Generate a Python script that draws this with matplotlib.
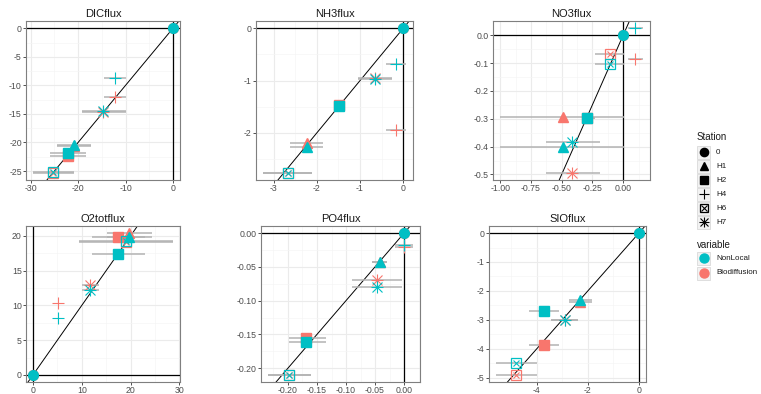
"""Observed vs modelled fluxes per station, NonLocal vs Biodiffusion."""

import matplotlib

matplotlib.use("Agg")

import matplotlib.pyplot as plt
import numpy as np
from matplotlib.patches import Rectangle
from matplotlib.ticker import AutoMinorLocator

plt.rcParams["font.family"] = ["Liberation Sans", "DejaVu Sans"]
plt.rcParams["axes.unicode_minus"] = False

STATIONS = ["0", "H1", "H2", "H4", "H6", "H7"]
VARIABLES = ["NonLocal", "Biodiffusion"]
COLOR_NONLOCAL = "#00BFC4"
COLOR_BIO = "#F8766D"

# x = measured flux, lo/hi = range of the measurement, y = modelled flux
DIC_X = [0, -20.8, -22.1, -12.3, -25.3, -14.7]
DIC_LO = [0, -24.5, -25.9, -14.5, -29.5, -19.2]
DIC_HI = [0, -17.2, -18.4, -9.9, -20.9, -9.9]
DIC_NONLOCAL = [0, -20.4, -21.8, -8.7, -25.2, -14.5]
DIC_BIO = [0, -20.7, -22.3, -12.1, -25.3, -14.6]
DIC_XTICKS = [-30, -20, -10, 0]
DIC_YTICKS = [-25, -20, -15, -10, -5, 0]

NH3_X = [0, -2.23, -1.48, -0.17, -2.66, -0.66]
NH3_LO = [0, -2.63, -1.48, -0.40, -3.24, -1.05]
NH3_HI = [0, -1.85, -1.48, 0.06, -2.11, -0.26]
NH3_NONLOCAL = [0, -2.27, -1.49, -0.69, -2.76, -0.97]
NH3_BIO = [0, -2.19, -1.47, -1.95, -2.76, -0.95]
NH3_XTICKS = [-3, -2, -1, 0]
NH3_YTICKS = [-2, -1, 0]

NO3_X = [0, -0.49, -0.295, 0.098, -0.11, -0.415]
NO3_LO = [0, -1.0, -0.31, 0.04, -0.23, -0.63]
NO3_HI = [0, 0.01, -0.23, 0.16, 0.01, -0.19]
NO3_NONLOCAL = [0, -0.403, -0.298, 0.025, -0.104, -0.385]
NO3_BIO = [0, -0.292, -0.298, -0.086, -0.068, -0.494]
NO3_XTICKS = [-1.0, -0.75, -0.5, -0.25, 0.0]
NO3_YTICKS = [-0.5, -0.4, -0.3, -0.2, -0.1, 0.0]

O2_X = [0, 19.7, 17.5, 5.2, 19.0, 11.7]
O2_LO = [0, 15.2, 12.0, 5.2, 9.5, 10.0]
O2_HI = [0, 24.3, 23.0, 5.2, 28.7, 13.5]
O2_NONLOCAL = [0, 19.8, 17.4, 8.15, 19.3, 12.2]
O2_BIO = [0, 20.4, 19.9, 10.4, 19.1, 12.9]
O2_XTICKS = [0, 10, 20, 30]
O2_YTICKS = [0, 5, 10, 15, 20]

PO4_X = [0, -0.042, -0.169, 0.0, -0.198, -0.047]
PO4_LO = [0, -0.055, -0.199, -0.015, -0.234, -0.089]
PO4_HI = [0, -0.029, -0.135, 0.015, -0.160, -0.003]
PO4_NONLOCAL = [0, -0.043, -0.161, -0.017, -0.210, -0.080]
PO4_BIO = [0, -0.043, -0.156, -0.021, -0.210, -0.069]
PO4_XTICKS = [-0.20, -0.15, -0.10, -0.05, 0.00]
PO4_YTICKS = [-0.20, -0.15, -0.10, -0.05, 0.00]

SIO_X = [0, -2.3, -3.72, np.nan, -4.82, -2.91]
SIO_LO = [0, -2.74, -4.3, np.nan, -5.6, -3.46]
SIO_HI = [0, -1.82, -3.13, np.nan, -4.0, -2.4]
SIO_NONLOCAL = [0, -2.31, -2.71, np.nan, -4.49, -3.02]
SIO_BIO = [0, -2.37, -3.88, np.nan, -4.91, -3.02]
SIO_XTICKS = [-4, -2, 0]
SIO_YTICKS = [-5, -4, -3, -2, -1, 0]

PANEL_TITLES = ["DICflux", "NH3flux", "NO3flux", "O2totflux", "PO4flux", "SIOflux"]

# axes boxes in pixels: left, top, right, bottom
PANEL_BOXES = [
    (26, 21, 180, 180),
    (256, 21, 413, 180),
    (493, 21, 650, 180),
    (26, 226, 180, 382),
    (261, 226, 420, 382),
    (489, 226, 646, 382),
]

FIG_W, FIG_H = 761, 394
SPINE_COLOR = "#7f7f7f"
ERR_COLOR = "#b3b3b3"


def draw_station(ax, x, y, station, color, scale=1.0):
    """Draw ggplot-like shapes 16, 17, 15, 3, 7, 8."""
    if station == "0":
        ax.plot(x, y, "o", ms=7 * scale, color=color, mec=color, zorder=5)
    elif station == "H1":
        ax.plot(x, y, "^", ms=7.5 * scale, color=color, mec=color, zorder=5)
    elif station == "H2":
        ax.plot(x, y, "s", ms=6.5 * scale, color=color, mec=color, zorder=5)
    elif station == "H4":
        ax.plot(x, y, "+", ms=9 * scale, mew=0.8, color=color, zorder=5)
    elif station == "H6":
        ax.plot(x, y, "s", ms=6.5 * scale, mfc="none", mec=color, mew=0.9, zorder=5)
        ax.plot(x, y, "x", ms=4.5 * scale, mew=0.8, color=color, zorder=5)
    elif station == "H7":
        ax.plot(x, y, "+", ms=9 * scale, mew=0.8, color=color, zorder=5)
        ax.plot(x, y, "x", ms=7 * scale, mew=0.8, color=color, zorder=5)


def expanded(values):
    arr = np.asarray(values, dtype=float)
    arr = arr[~np.isnan(arr)]
    lo, hi = min(arr.min(), 0.0), max(arr.max(), 0.0)
    pad = 0.05 * (hi - lo)
    return lo - pad, hi + pad


def draw_panel(ax, title, xs, los, his, y_nonlocal, y_bio, xticks, yticks, fmt_x, fmt_y):
    xs, los, his = np.asarray(xs, float), np.asarray(los, float), np.asarray(his, float)
    y_nonlocal, y_bio = np.asarray(y_nonlocal, float), np.asarray(y_bio, float)

    ax.set_xlim(*expanded(np.concatenate([xs, los, his])))
    ax.set_ylim(*expanded(np.concatenate([y_nonlocal, y_bio])))

    ax.set_xticks(xticks)
    ax.set_yticks(yticks)
    ax.set_xticklabels([fmt_x.format(t) for t in xticks])
    ax.set_yticklabels([fmt_y.format(t) for t in yticks])
    ax.xaxis.set_minor_locator(AutoMinorLocator(2))
    ax.yaxis.set_minor_locator(AutoMinorLocator(2))
    ax.grid(which="major", color="#EBEBEB", lw=0.8, zorder=0)
    ax.grid(which="minor", color="#F5F5F5", lw=0.5, zorder=0)
    ax.set_axisbelow(True)
    ax.tick_params(which="major", length=2, width=0.6, color="#333333",
                   labelsize=6.3, labelcolor="#4d4d4d", pad=1)
    ax.tick_params(which="minor", length=0)
    for spine in ax.spines.values():
        spine.set_color(SPINE_COLOR)
        spine.set_linewidth(0.8)

    ax.axhline(0, color="black", lw=0.9, zorder=2)
    ax.axvline(0, color="black", lw=0.9, zorder=2)
    ax.axline((0, 0), slope=1, color="black", lw=0.7, zorder=2)

    for yv in (y_bio, y_nonlocal):
        ax.hlines(yv, los, his, color=ERR_COLOR, lw=1.3, alpha=0.85, zorder=3)

    for yv, color in ((y_bio, COLOR_BIO), (y_nonlocal, COLOR_NONLOCAL)):
        for i, station in enumerate(STATIONS):
            if np.isnan(xs[i]):
                continue
            draw_station(ax, xs[i], yv[i], station, color)

    ax.set_title(title, fontsize=8, pad=3, color="#1a1a1a")


fig = plt.figure(figsize=(FIG_W / 100, FIG_H / 100), dpi=100)
fig.patch.set_facecolor("white")

panels = [
    (DIC_X, DIC_LO, DIC_HI, DIC_NONLOCAL, DIC_BIO, DIC_XTICKS, DIC_YTICKS, "{:g}", "{:g}"),
    (NH3_X, NH3_LO, NH3_HI, NH3_NONLOCAL, NH3_BIO, NH3_XTICKS, NH3_YTICKS, "{:g}", "{:g}"),
    (NO3_X, NO3_LO, NO3_HI, NO3_NONLOCAL, NO3_BIO, NO3_XTICKS, NO3_YTICKS, "{:.2f}", "{:.1f}"),
    (O2_X, O2_LO, O2_HI, O2_NONLOCAL, O2_BIO, O2_XTICKS, O2_YTICKS, "{:g}", "{:g}"),
    (PO4_X, PO4_LO, PO4_HI, PO4_NONLOCAL, PO4_BIO, PO4_XTICKS, PO4_YTICKS, "{:.2f}", "{:.2f}"),
    (SIO_X, SIO_LO, SIO_HI, SIO_NONLOCAL, SIO_BIO, SIO_XTICKS, SIO_YTICKS, "{:g}", "{:g}"),
]

for title, box, args in zip(PANEL_TITLES, PANEL_BOXES, panels):
    left, top, right, bottom = box
    ax = fig.add_axes([left / FIG_W, 1 - bottom / FIG_H,
                       (right - left) / FIG_W, (bottom - top) / FIG_H])
    draw_panel(ax, title, *args)

# legend drawn in pixel coordinates on an overlay axes
leg = fig.add_axes([0, 0, 1, 1])
leg.set_xlim(0, FIG_W)
leg.set_ylim(FIG_H, 0)
leg.axis("off")

KEY = 13
leg.text(697, 137, "Station", fontsize=7, va="center", ha="left", color="#1a1a1a")
for i, station in enumerate(STATIONS):
    cy = 152 + i * 14
    leg.add_patch(Rectangle((697, cy - KEY / 2), KEY, KEY, facecolor="#F2F2F2",
                            edgecolor="#D9D9D9", lw=0.6))
    draw_station(leg, 697 + KEY / 2, cy, station, "black", scale=0.85)
    leg.text(716, cy, station, fontsize=5.8, va="center", ha="left", color="#1a1a1a")

leg.text(697, 245, "variable", fontsize=7, va="center", ha="left", color="#1a1a1a")
for i, (name, color) in enumerate(zip(VARIABLES, [COLOR_NONLOCAL, COLOR_BIO])):
    cy = 258 + i * 15
    leg.add_patch(Rectangle((697, cy - KEY / 2), KEY, KEY, facecolor="#F2F2F2",
                            edgecolor="#D9D9D9", lw=0.6))
    leg.plot(697 + KEY / 2, cy, "o", ms=6.5, color=color)
    leg.text(716, cy, name, fontsize=5.8, va="center", ha="left", color="#1a1a1a")

fig.savefig("out.png", dpi=100)
